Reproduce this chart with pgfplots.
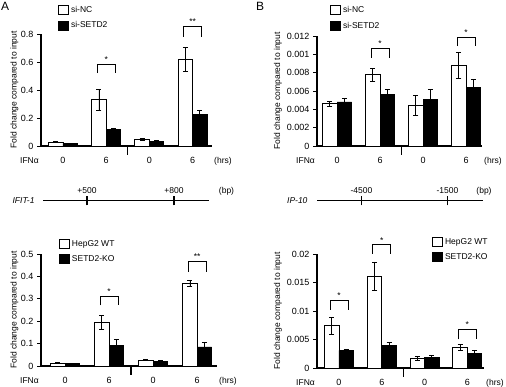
\documentclass[border=0pt]{standalone}
\usepackage{pgfplots}
\pgfplotsset{compat=1.18}
\usepackage{fontspec}
\setmainfont{Liberation Sans}

\newcommand{\fs}{\fontsize{8.5}{10}\selectfont}
\newcommand{\brk}[4]{%
  \draw[line width=0.8pt] ([xshift=-9pt]axis cs:#1,#3) -- ([xshift=-9pt]axis cs:#1,#2) -- ([xshift=9pt]axis cs:#1,#2) -- ([xshift=9pt]axis cs:#1,#3);
  \node[anchor=base, inner sep=0pt, font=\fs] at ([yshift=1.5pt]axis cs:#1,#2) {#4};}
\newcommand{\xdeco}{%
  \draw[line width=1.2pt] (axis cs:1.5,0) -- ([yshift=-9pt]axis cs:1.5,0);
  \node[anchor=north east, text height=7pt, text depth=2pt, font=\fs, inner sep=0pt] at ([xshift=-2pt,yshift=-10pt]rel axis cs:0,0) {IFNα};
  \node[anchor=north west, text height=7pt, text depth=2pt, font=\fs, inner sep=0pt] at ([xshift=2pt,yshift=-10pt]rel axis cs:1,0) {(hrs)};}

\pgfplotsset{
  panel/.style={
    scale only axis, ybar=0pt, bar width=14.5pt, ymin=0, clip=false,
    axis x line=bottom, axis y line=left,
    axis line style={-, line width=1.1pt, black},
    tick align=outside, major tick length=4pt,
    ytick style={line width=0.8pt, black},
    xtick style={draw=none},
    scaled y ticks=false,
    /pgf/number format/assume math mode=true,
    tick label style={font=\fontsize{9}{10}\selectfont},
    xtick={0,1,2,3}, xticklabels={0,6,0,6},
    xticklabel style={text height=7pt, text depth=2pt, inner sep=0pt, yshift=-6pt},
    ylabel={Fold change compared to input},
    ylabel style={font=\fs, anchor=center},
    legend image code/.code={\draw[#1, line width=0.8pt] (0pt,-4.5pt) rectangle (10pt,4.5pt);},
    legend cell align=left,
    legend style={draw=none, fill=none, inner sep=0pt, row sep=4pt, font=\fs, anchor=north west},
  },
  wbar/.style={draw=black, fill=white, line width=0.8pt,
    error bars/.cd, y dir=both, y explicit,
    error bar style={line width=0.8pt, black},
    error mark options={rotate=90, mark size=2.5pt, line width=0.8pt, black}},
  bbar/.style={draw=black, fill=black, line width=0.8pt,
    error bars/.cd, y dir=both, y explicit,
    error bar style={line width=0.8pt, black},
    error mark options={rotate=90, mark size=2.5pt, line width=0.8pt, black}},
}

\begin{document}
\begin{tikzpicture}[font=\fs]
\path[use as bounding box] (0pt,0pt) rectangle (506pt,387pt);

% ---------------- A top ----------------
\begin{axis}[panel, at={(41pt,241pt)}, anchor=south west, width=171pt, height=112pt,
  xmin=-0.509, xmax=3.449, ymax=0.8,
  ytick={0,0.2,0.4,0.6,0.8}, yticklabels={0,0.2,0.4,0.6,0.8},
  ylabel style={at={(axis description cs:-0.155,0.5)}},
  legend style={at={(axis description cs:0.1,1.268)}}]
\addplot[wbar] coordinates {(0,0.028) +- (0,0.005) (1,0.330) +- (0,0.075) (2,0.048) +- (0,0.007) (3,0.617) +- (0,0.085)};
\addplot[bbar] coordinates {(0,0.018) +- (0,0.003) (1,0.117) +- (0,0.012) (2,0.035) +- (0,0.004) (3,0.227) +- (0,0.025)};
\legend{si-NC, si-SETD2}
\brk{1}{0.584}{0.52}{*}
\brk{3}{0.857}{0.78}{**}
\xdeco
\end{axis}

% ---------------- B top ----------------
\begin{axis}[panel, at={(317pt,241pt)}, anchor=south west, width=165pt, height=110pt,
  xmin=-0.465, xmax=3.37, ymax=0.012,
  ytick={0,0.002,0.004,0.006,0.008,0.010,0.012},
  yticklabels={0,0.002,0.004,0.006,0.008,0.001,0.012},
  ylabel style={at={(axis description cs:-0.237,0.5)}},
  legend style={at={(axis description cs:0.079,1.29)}}]
\addplot[wbar] coordinates {(0,0.0046) +- (0,0.0003) (1,0.0078) +- (0,0.0007) (2,0.0044) +- (0,0.0011) (3,0.0088) +- (0,0.0014)};
\addplot[bbar] coordinates {(0,0.0048) +- (0,0.0004) (1,0.0056) +- (0,0.0006) (2,0.0051) +- (0,0.0011) (3,0.0064) +- (0,0.0009)};
\legend{si-NC, si-SETD2}
\brk{1}{0.01066}{0.0096}{*}
\brk{3}{0.0119}{0.0109}{*}
\xdeco
\end{axis}

% ---------------- A bottom ----------------
\begin{axis}[panel, at={(41pt,21pt)}, anchor=south west, width=176pt, height=112pt,
  xmin=-0.545, xmax=3.45, ymax=0.5,
  ytick={0,0.1,0.2,0.3,0.4,0.5}, yticklabels={0,0.1,0.2,0.3,0.4,0.5},
  ylabel style={at={(axis description cs:-0.151,0.5)}},
  legend style={at={(axis description cs:0.102,1.143)}}]
\addplot[wbar] coordinates {(0,0.013) +- (0,0.003) (1,0.195) +- (0,0.030) (2,0.026) +- (0,0.003) (3,0.368) +- (0,0.014)};
\addplot[bbar] coordinates {(0,0.010) +- (0,0.002) (1,0.093) +- (0,0.025) (2,0.021) +- (0,0.004) (3,0.085) +- (0,0.022)};
\legend{HepG2 WT, SETD2-KO}
\brk{1}{0.3125}{0.271}{*}
\brk{3}{0.467}{0.421}{**}
\xdeco
\end{axis}

% ---------------- B bottom ----------------
\begin{axis}[panel, at={(317pt,19pt)}, anchor=south west, width=167pt, height=114pt,
  xmin=-0.514, xmax=3.39, ymax=0.02,
  ytick={0,0.005,0.01,0.015,0.02}, yticklabels={0,0.005,0.01,0.015,0.02},
  ylabel style={at={(axis description cs:-0.234,0.5)}},
  legend style={at={(axis description cs:0.689,1.158)}}]
\addplot[wbar] coordinates {(0,0.0074) +- (0,0.0015) (1,0.0161) +- (0,0.0025) (2,0.0017) +- (0,0.0004) (3,0.0036) +- (0,0.0005)};
\addplot[bbar] coordinates {(0,0.0031) +- (0,0.0001) (1,0.0039) +- (0,0.0006) (2,0.0019) +- (0,0.0003) (3,0.0025) +- (0,0.0005)};
\legend{HepG2 WT, SETD2-KO}
\brk{0}{0.0119}{0.0102}{*}
\brk{1}{0.0216}{0.0200}{*}
\brk{3}{0.0068}{0.0050}{*}
\xdeco
\end{axis}

% ---------------- panel letters ----------------
\node[font=\fontsize{12}{14}\selectfont, anchor=north west, inner sep=0pt] at (1pt,385pt) {A};
\node[font=\fontsize{12}{14}\selectfont, anchor=north west, inner sep=0pt] at (256pt,385pt) {B};

% ---------------- gene diagrams ----------------
\draw[line width=1pt] (43pt,186pt) -- (209pt,186pt);
\draw[line width=1.2pt] (87pt,181.5pt) -- (87pt,190.5pt);
\draw[line width=1.2pt] (174pt,181.5pt) -- (174pt,190.5pt);
\node[anchor=east, font=\fs\itshape] at (38pt,186pt) {IFIT-1};
\node[anchor=base, font=\fs] at (87pt,193pt) {+500};
\node[anchor=base, font=\fs] at (174pt,193pt) {+800};
\node[anchor=base, font=\fs] at (226.5pt,193pt) {(bp)};

\draw[line width=1pt] (317pt,186pt) -- (483pt,186pt);
\draw[line width=1.2pt] (361.5pt,181.5pt) -- (361.5pt,190.5pt);
\draw[line width=1.2pt] (447.5pt,181.5pt) -- (447.5pt,190.5pt);
\node[anchor=east, font=\fs\itshape] at (311pt,186pt) {IP-10};
\node[anchor=base, font=\fs] at (361.5pt,193pt) {-4500};
\node[anchor=base, font=\fs] at (447.5pt,193pt) {-1500};
\node[anchor=base, font=\fs] at (484pt,193pt) {(bp)};
\end{tikzpicture}
\end{document}
